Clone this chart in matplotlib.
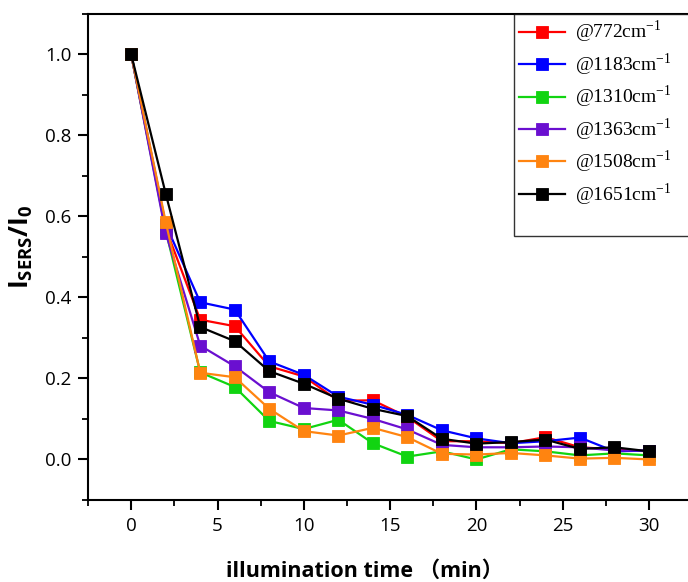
import numpy as np
from matplotlib import pyplot as plt
from matplotlib.ticker import MultipleLocator

plt.rcParams['mathtext.fontset'] = 'custom'
plt.rcParams['mathtext.rm'] = 'Liberation Serif'
plt.rcParams['mathtext.bf'] = 'Open Sans:bold'

# data
time_min = [0, 2, 4, 6, 8, 10, 12, 14, 16, 18, 20, 22, 24, 26, 28, 30]
labels = ['@772cm$^{-1}$', '@1183cm$^{-1}$', '@1310cm$^{-1}$',
          '@1363cm$^{-1}$', '@1508cm$^{-1}$', '@1651cm$^{-1}$']
colors = ['#ff0000', '#0000ff', '#11d411', '#6a0fd0', '#ff8410', '#000000']

i_772 = [1.0, 0.57, 0.345, 0.329, 0.23, 0.205, 0.145, 0.146, 0.105, 0.045, 0.045, 0.04, 0.055, 0.03, 0.025, 0.02]
i_1183 = [1.0, 0.58, 0.388, 0.370, 0.242, 0.209, 0.155, 0.135, 0.11, 0.072, 0.052, 0.04, 0.045, 0.054, 0.02, 0.022]
i_1310 = [1.0, 0.565, 0.215, 0.179, 0.095, 0.075, 0.098, 0.040, 0.007, 0.02, 0.0, 0.025, 0.02, 0.01, 0.015, 0.01]
i_1363 = [1.0, 0.559, 0.281, 0.230, 0.166, 0.127, 0.121, 0.10, 0.074, 0.036, 0.03, 0.03, 0.032, 0.03, 0.022, 0.022]
i_1508 = [1.0, 0.586, 0.214, 0.203, 0.125, 0.070, 0.059, 0.078, 0.055, 0.014, 0.012, 0.016, 0.01, 0.002, 0.004, 0.0]
i_1651 = [1.0, 0.656, 0.327, 0.292, 0.218, 0.187, 0.150, 0.125, 0.107, 0.051, 0.039, 0.043, 0.049, 0.026, 0.030, 0.020]
series = [i_772, i_1183, i_1310, i_1363, i_1508, i_1651]

fig = plt.figure(figsize=(6.88, 5.82), dpi=100)
ax = fig.add_axes([0.128, 0.141, 0.878, 0.835])

for vals, col, lab in zip(series, colors, labels):
    ax.plot(time_min, vals, color=col, lw=1.6, marker='s', markersize=8,
            markeredgecolor=col, markeredgewidth=0.6, label=lab)

ax.set_xlim(-2.5, 32.5)
ax.set_ylim(-0.1, 1.1)
ax.xaxis.set_major_locator(MultipleLocator(5))
ax.xaxis.set_minor_locator(MultipleLocator(2.5))
ax.yaxis.set_minor_locator(MultipleLocator(0.1))
ax.set_yticks(np.arange(0, 1.01, 0.2))
ax.set_yticklabels(['%.1f' % v for v in np.arange(0, 1.01, 0.2)])

for s in ax.spines.values():
    s.set_linewidth(1.5)
ax.tick_params(which='major', direction='out', length=7, width=1.5,
               labelsize=13.5, pad=5)
ax.tick_params(which='minor', direction='out', length=4, width=1.3)
for t in ax.get_xticklabels() + ax.get_yticklabels():
    t.set_family('Open Sans')

ax.set_ylabel(r'$\mathbf{I_{SERS}/I_0}$', fontsize=19)
ax.yaxis.set_label_coords(-0.088, 0.52)
ax.set_xlabel('illumination time （min）', fontsize=15.5, fontweight='bold',
              family=['Open Sans', 'Noto Sans CJK SC'])
ax.xaxis.set_label_coords(0.458, -0.125)

# legend box runs past the right edge like in the reference
handles, labs = ax.get_legend_handles_labels()
handles.append(plt.Line2D([], [], color='none'))
labs.append(' ')
leg = ax.legend(handles, labs, loc='upper left',
                bbox_to_anchor=(0.705, 0.0, 0.31, 1.0), mode='expand',
                prop={'family': 'Liberation Serif', 'size': 14},
                frameon=True, fancybox=False, edgecolor='black',
                handlelength=2.4, handletextpad=0.5, labelspacing=0.3,
                borderaxespad=0, borderpad=0.25)
leg.get_frame().set_linewidth(1.0)

fig.savefig('out.png', dpi=100)
